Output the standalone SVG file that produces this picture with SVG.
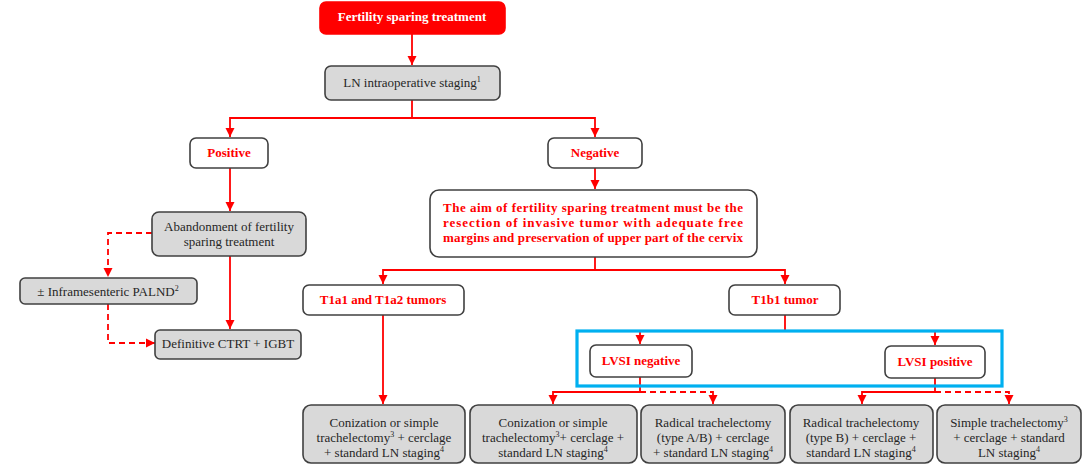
<svg xmlns="http://www.w3.org/2000/svg" width="1091" height="465" viewBox="0 0 1091 465">
<defs>
<marker id="ah" markerWidth="10" markerHeight="10" refX="9" refY="5" orient="auto" markerUnits="userSpaceOnUse">
<path d="M0,0.5 L9,5 L0,9.5 Z" fill="#ff0000"/>
</marker>
<style>
.box{fill:#ffffff;stroke:#404040;stroke-width:1.6}
.gbox{fill:#d9d9d9;stroke:#404040;stroke-width:1.6}
.rbox{fill:#ff0000;stroke:#ff0000;stroke-width:1.6}
.t{font-family:"Liberation Serif",serif;font-size:13px;fill:#262626;text-anchor:middle}
.rt{font-family:"Liberation Serif",serif;font-size:13px;font-weight:bold;fill:#ff0000;text-anchor:middle}
.rs{font-family:"Liberation Serif",serif;font-size:13px;font-weight:bold;fill:#ff0000;text-anchor:start}
.wt{font-family:"Liberation Serif",serif;font-size:13px;font-weight:bold;fill:#ffffff;text-anchor:middle}
.sup{font-size:8px}
.c{fill:none;stroke:#ff0000;stroke-width:1.8}
.d{fill:none;stroke:#ff0000;stroke-width:1.8;stroke-dasharray:6,4}
</style>
</defs>
<rect width="1091" height="465" fill="#ffffff"/>
<g id="connectors">
<path class="c" d="M412,34 V65" marker-end="url(#ah)"/>
<path class="c" d="M412,100 V118 H230 V137" marker-end="url(#ah)"/>
<path class="c" d="M412,118 H595 V137" marker-end="url(#ah)"/>
<path class="c" d="M230,168 V211" marker-end="url(#ah)"/>
<path class="d" d="M152,233 H108 V277" marker-end="url(#ah)"/>
<path class="d" d="M108,304 V343 H155" marker-end="url(#ah)"/>
<path class="c" d="M230,256 V329" marker-end="url(#ah)"/>
<path class="c" d="M595,168 V189" marker-end="url(#ah)"/>
<path class="c" d="M595,257 V270 H383 V284" marker-end="url(#ah)"/>
<path class="c" d="M595,270 H785 V284" marker-end="url(#ah)"/>
<path class="c" d="M383,315 V404" marker-end="url(#ah)"/>
<path class="c" d="M785,315 V331 H640 V344" marker-end="url(#ah)"/>
<path class="c" d="M785,331 H935 V345" marker-end="url(#ah)"/>
<path class="c" d="M640,377 V392 H553 V404" marker-end="url(#ah)"/>
<path class="d" d="M640,392 H713 V404" marker-end="url(#ah)"/>
<path class="c" d="M935,378 V392 H862 V404" marker-end="url(#ah)"/>
<path class="d" d="M935,392 H1009 V404" marker-end="url(#ah)"/>
</g>
<rect id="lvsi-group" x="577" y="331" width="425" height="55" fill="none" stroke="#00b0f0" stroke-width="3.2"/>
<g id="n-fst">
<rect class="rbox" x="320" y="2" width="185" height="32" rx="6"/>
<text class="wt" x="412" y="21">Fertility sparing treatment</text>
</g>
<g id="n-ln">
<rect class="gbox" x="325" y="66" width="175" height="34" rx="6"/>
<text class="t" x="412" y="87">LN intraoperative staging<tspan class="sup" dy="-5">1</tspan></text>
</g>
<g id="n-pos">
<rect class="box" x="190" y="138" width="78" height="30" rx="6"/>
<text class="rt" x="229" y="157">Positive</text>
</g>
<g id="n-neg">
<rect class="box" x="548" y="138" width="94" height="30" rx="6"/>
<text class="rt" x="595" y="157">Negative</text>
</g>
<g id="n-abandon">
<rect class="gbox" x="152" y="212" width="154" height="44" rx="7"/>
<text class="t" x="229" y="231">Abandonment of fertility</text>
<text class="t" x="229" y="246">sparing treatment</text>
</g>
<g id="n-palnd">
<rect class="gbox" x="20" y="278" width="177" height="26" rx="5"/>
<text class="t" x="108" y="296">± Inframesenteric PALND<tspan class="sup" dy="-5">2</tspan></text>
</g>
<g id="n-ctrt">
<rect class="gbox" x="155" y="330" width="146" height="29" rx="5"/>
<text class="t" x="228" y="348">Definitive CTRT + IGBT</text>
</g>
<g id="n-aim">
<rect class="box" x="430" y="190" width="327" height="67" rx="9"/>
<text class="rs" x="443" y="212" textLength="300" lengthAdjust="spacing">The aim of fertility sparing treatment must be the</text>
<text class="rs" x="443" y="227" textLength="300" lengthAdjust="spacing">resection of invasive tumor with adequate free</text>
<text class="rs" x="443" y="242" textLength="300" lengthAdjust="spacing">margins and preservation of upper part of the cervix</text>
</g>
<g id="n-t1a">
<rect class="box" x="303" y="285" width="161" height="30" rx="6"/>
<text class="rt" x="383" y="304">T1a1 and T1a2 tumors</text>
</g>
<g id="n-t1b">
<rect class="box" x="729" y="285" width="111" height="30" rx="6"/>
<text class="rt" x="785" y="304">T1b1 tumor</text>
</g>
<g id="n-lvsineg">
<rect class="box" x="590" y="345" width="102" height="32" rx="6"/>
<text class="rt" x="641" y="365">LVSI negative</text>
</g>
<g id="n-lvsipos">
<rect class="box" x="885" y="346" width="100" height="32" rx="6"/>
<text class="rt" x="935" y="366">LVSI positive</text>
</g>
<g id="n-b1">
<rect class="gbox" x="303" y="405" width="162" height="58" rx="8"/>
<text class="t" x="384" y="427">Conization or simple</text>
<text class="t" x="384" y="442">trachelectomy<tspan class="sup" dy="-5">3</tspan><tspan dy="5"> + cerclage</tspan></text>
<text class="t" x="384" y="457">+ standard LN staging<tspan class="sup" dy="-5">4</tspan></text>
</g>
<g id="n-b2">
<rect class="gbox" x="470" y="405" width="167" height="58" rx="8"/>
<text class="t" x="553" y="427">Conization or simple</text>
<text class="t" x="553" y="442">trachelectomy<tspan class="sup" dy="-5">3</tspan><tspan dy="5">+ cerclage +</tspan></text>
<text class="t" x="553" y="457">standard LN staging<tspan class="sup" dy="-5">4</tspan></text>
</g>
<g id="n-b3">
<rect class="gbox" x="641" y="405" width="144" height="58" rx="8"/>
<text class="t" x="713" y="427">Radical trachelectomy</text>
<text class="t" x="713" y="442">(type A/B) + cerclage</text>
<text class="t" x="713" y="457">+ standard LN staging<tspan class="sup" dy="-5">4</tspan></text>
</g>
<g id="n-b4">
<rect class="gbox" x="790" y="405" width="143" height="58" rx="8"/>
<text class="t" x="861" y="427">Radical trachelectomy</text>
<text class="t" x="861" y="442">(type B) + cerclage +</text>
<text class="t" x="861" y="457">standard LN staging<tspan class="sup" dy="-5">4</tspan></text>
</g>
<g id="n-b5">
<rect class="gbox" x="937" y="405" width="144" height="58" rx="8"/>
<text class="t" x="1009" y="427">Simple trachelectomy<tspan class="sup" dy="-5">3</tspan></text>
<text class="t" x="1009" y="442">+ cerclage + standard</text>
<text class="t" x="1009" y="457">LN staging<tspan class="sup" dy="-5">4</tspan></text>
</g>
</svg>
